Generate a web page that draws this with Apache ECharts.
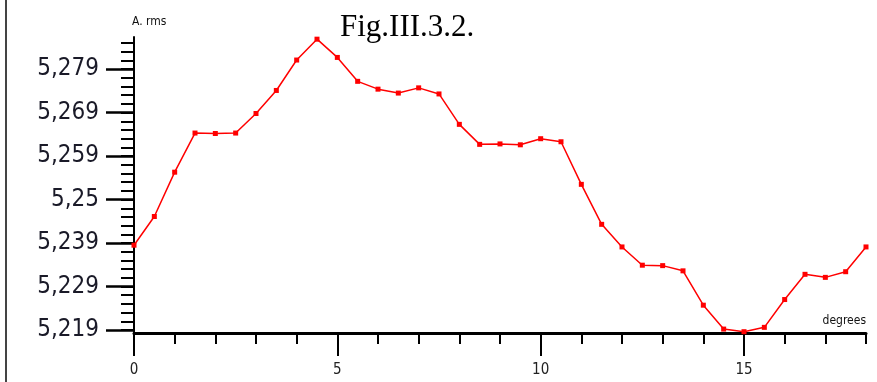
<!DOCTYPE html>
<html>
<head>
<meta charset="utf-8">
<script src="https://cdn.jsdelivr.net/npm/echarts@6/dist/echarts.min.js"></script>
<style>
html,body{margin:0;padding:0;background:#fff;}
#chart{width:877px;height:382px;}
</style>
</head>
<body>
<div id="chart"></div>
<script>
// Data
const titleText = 'Fig.III.3.2.';
const yAxisName = 'A. rms';
const xAxisName = 'degrees';
const degrees = [0, 0.5, 1, 1.5, 2, 2.5, 3, 3.5, 4, 4.5, 5, 5.5, 6, 6.5, 7, 7.5, 8, 8.5, 9,
  9.5, 10, 10.5, 11, 11.5, 12, 12.5, 13, 13.5, 14, 14.5, 15, 15.5, 16, 16.5, 17, 17.5, 18];
const arms = [5.2385, 5.2451, 5.2553, 5.2643, 5.2642, 5.2643, 5.2688, 5.2741, 5.2811, 5.2859,
  5.2817, 5.2762, 5.2744, 5.2735, 5.2747, 5.2733, 5.2663, 5.2617, 5.2618, 5.2616,
  5.2630, 5.2623, 5.2525, 5.2433, 5.2381, 5.2339, 5.2338, 5.2326, 5.2247, 5.2192,
  5.2186, 5.2196, 5.2260, 5.2318, 5.2311, 5.2324, 5.2381];
const yTickValues = [5.219, 5.229, 5.239, 5.249, 5.259, 5.269, 5.279];
const yTickLabels = ['5,219', '5,229', '5,239', '5,25', '5,259', '5,269', '5,279'];
const xTickValues = [0, 5, 10, 15];
const xTickLabels = ['0', '5', '10', '15'];

const yMin = 5.2183, yMax = 5.2864;
const yMinor = [];
for (let k = 0; k <= 33; k++) { const v = +(5.219 + k * 0.002).toFixed(4); if (v <= yMax) yMinor.push(v); }

const narrow = '"Liberation Sans Narrow","DejaVu Sans Condensed","Arial Narrow",sans-serif';
const chart = echarts.init(document.getElementById('chart'), null, {renderer: 'canvas'});
chart.setOption({
  animation: false,
  backgroundColor: '#ffffff',
  title: {
    text: titleText, left: 335, top: 7,
    textStyle: {fontFamily: '"Liberation Serif","Times New Roman",serif', fontSize: 31, fontWeight: 'normal', color: '#000'}
  },
  graphic: [{
    type: 'line', shape: {x1: 6, y1: 0, x2: 6, y2: 382},
    style: {stroke: '#444', lineWidth: 2}
  }],
  grid: {left: 134, right: 11, top: 37, bottom: 49},
  xAxis: [{
    type: 'value', min: 0, max: 18,
    name: xAxisName, nameLocation: 'end', nameGap: 0,
    nameTextStyle: {fontFamily: narrow, fontSize: 12, color: '#111', align: 'right', verticalAlign: 'bottom', padding: [0, 0, 6, 0]},
    axisLine: {show: true, lineStyle: {color: '#000', width: 3}},
    axisTick: {show: true, customValues: xTickValues, length: 23, lineStyle: {color: '#000', width: 2}},
    axisLabel: {show: true, customValues: xTickValues, margin: 30, fontFamily: narrow, fontSize: 15, color: '#222',
      formatter: v => xTickLabels[xTickValues.indexOf(v)]},
    splitLine: {show: false}
  }, {
    type: 'value', min: 0, max: 18, interval: 1, position: 'bottom',
    axisLine: {show: false},
    axisTick: {show: true, length: 11, lineStyle: {color: '#000', width: 2}},
    axisLabel: {show: false},
    splitLine: {show: false}
  }],
  yAxis: [{
    type: 'value', min: yMin, max: yMax,
    name: yAxisName, nameLocation: 'end', nameGap: 9,
    nameTextStyle: {fontFamily: narrow, fontSize: 12, color: '#111', align: 'left', padding: [0, 0, 0, -2]},
    axisLine: {show: true, lineStyle: {color: '#000', width: 2}},
    axisTick: {show: true, customValues: yTickValues, length: 28, lineStyle: {color: '#000', width: 2.5}},
    axisLabel: {show: true, customValues: yTickValues, margin: 35, fontFamily: narrow, fontSize: 24, color: '#1a1a28',
      formatter: v => yTickLabels[Math.round((v - 5.219) / 0.01)]},
    splitLine: {show: false}
  }, {
    type: 'value', min: yMin, max: yMax, position: 'left',
    axisLine: {show: false},
    axisTick: {show: true, customValues: yMinor, length: 13, lineStyle: {color: '#000', width: 2}},
    axisLabel: {show: false},
    splitLine: {show: false}
  }],
  series: [{
    type: 'line', xAxisIndex: 0, yAxisIndex: 0,
    data: degrees.map((d, i) => [d, arms[i]]),
    symbol: 'rect', symbolSize: 5, showAllSymbol: true,
    lineStyle: {color: '#ff0000', width: 1.5},
    itemStyle: {color: '#ff0000'},
    clip: false
  }]
});
</script>
</body>
</html>
